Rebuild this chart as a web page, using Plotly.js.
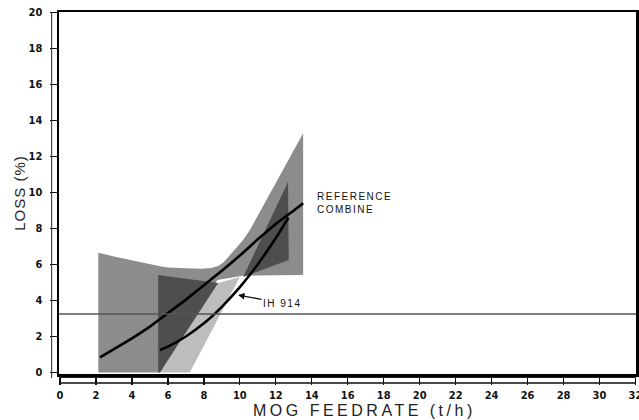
<!DOCTYPE html>
<html>
<head>
<meta charset="utf-8">
<script src="https://cdn.plot.ly/plotly-3.0.1.min.js"></script>
<style>
  html, body { margin: 0; padding: 0; background: #fff; }
  #chart { width: 639px; height: 420px; }
  .ytitle { letter-spacing: 1px; }
  .annotation-text { letter-spacing: 1.5px; }
  .annotation[data-index="2"] .annotation-text { letter-spacing: 3.5px; }
</style>
</head>
<body>
<div id="chart"></div>
<script>
// ---- axis ticks ----
const xTicks = [0, 2, 4, 6, 8, 10, 12, 14, 16, 18, 20, 22, 24, 26, 28, 30, 32];
const xTickText = ["0", "2", "4", "6", "8", "10", "12", "14", "16", "18", "20", "22", "24", "26", "28", "30", "32"];
const yTicks = [0, 2, 4, 6, 8, 10, 12, 14, 16, 18, 20];
const yTickText = ["0", "2", "4", "6", "8", "10", "12", "14", "16", "18", "20"];
const xTitle = "MOG FEEDRATE (t/h)";
const yTitle = "LOSS (%)";

// ---- reference combine band (medium grey) ----
const refBandX = [2.13, 2.13, 3, 4, 5, 5.56, 6, 7, 7.8, 8.4, 8.8, 9.1, 9.44, 9.8, 10.18, 10.56, 13.52, 13.52, 10.56, 10.15, 8.75, 5.56];
const refBandY = [0, 6.66, 6.45, 6.22, 6.0, 5.9, 5.84, 5.78, 5.76, 5.8, 5.92, 6.12, 6.5, 6.95, 7.36, 7.92, 13.29, 5.42, 5.42, 5.38, 5.14, 0];

// ---- IH 914 band, lower part (light stippled grey) ----
const ihBandX = [5.56, 7.22, 10.0, 8.8];
const ihBandY = [0, 0, 5.3, 4.97];

// ---- overlap regions (dark grey) ----
const overlapLeftX = [5.46, 5.46, 8.8, 5.56];
const overlapLeftY = [0, 5.42, 4.97, 0];
const overlapRightX = [10.18, 12.68, 12.72];
const overlapRightY = [5.3, 10.6, 6.25];

// ---- fitted curves ----
const refCurveX = [2.22, 3, 4, 5, 6, 7, 8, 9, 10, 11, 12, 13, 13.52];
const refCurveY = [0.84, 1.3, 1.9, 2.55, 3.3, 4.05, 4.85, 5.65, 6.5, 7.4, 8.25, 9.0, 9.4];
const ihCurveX = [5.56, 6, 7, 8, 9, 10, 11, 12, 12.7];
const ihCurveY = [1.25, 1.44, 2.0, 2.73, 3.65, 4.74, 6.02, 7.47, 8.6];

// ---- horizontal reference level ----
const THRESHOLD = 3.25;

const tickFont = { family: "Liberation Sans Narrow, DejaVu Sans Condensed, Arial Narrow, sans-serif", size: 11, weight: 700, color: "#111" };
const titleFontFamily = "Liberation Sans, Arial, Helvetica, sans-serif";

function band(x, y, color) {
  return { x: x, y: y, type: "scatter", mode: "lines", fill: "toself", fillcolor: color,
           line: { width: 0, color: color }, hoverinfo: "skip", showlegend: false };
}
function curve(x, y) {
  return { x: x, y: y, type: "scatter", mode: "lines", line: { color: "#000", width: 2.6, shape: "spline", smoothing: 0.6 },
           hoverinfo: "skip", showlegend: false };
}

const data = [
  band(refBandX, refBandY, "#8c8c8c"),
  band(ihBandX, ihBandY, "#bdbdbd"),
  band(overlapLeftX, overlapLeftY, "#4e4e4e"),
  band(overlapRightX, overlapRightY, "#4e4e4e"),
  curve(refCurveX, refCurveY),
  curve(ihCurveX, ihCurveY)
];

const layout = {
  width: 639, height: 420,
  margin: { l: 59, r: 3, t: 12, b: 46, pad: 0 },
  paper_bgcolor: "#fff", plot_bgcolor: "#fff",
  showlegend: false,
  xaxis: {
    range: [-0.056, 32.03], tickmode: "array", tickvals: xTicks, ticktext: xTickText,
    ticks: "outside", ticklen: 8, tickwidth: 1.3, tickcolor: "#111",
    showline: true, linewidth: 2.5, linecolor: "#000", mirror: true,
    showgrid: false, zeroline: false, tickfont: tickFont, ticklabelstandoff: 1,
    ticklabeloverflow: "allow",
    automargin: false,
    title: { text: "" }
  },
  yaxis: {
    range: [-0.083, 20.03], tickmode: "array", tickvals: yTicks, ticktext: yTickText,
    ticks: "outside", ticklen: 7, tickwidth: 1.3, tickcolor: "#111",
    showline: true, linewidth: 2.5, linecolor: "#000", mirror: true,
    showgrid: false, zeroline: false, tickfont: tickFont, ticklabelstandoff: 5,
    automargin: false,
    title: { text: yTitle, font: { family: titleFontFamily, size: 15, color: "#222" }, standoff: 0 }
  },
  shapes: [
    { type: "line", xref: "paper", x0: 0, x1: 1, yref: "y", y0: THRESHOLD, y1: THRESHOLD,
      line: { color: "#555", width: 1.3 }, layer: "above" },
    { type: "line", xref: "paper", x0: -0.0127, x1: -0.0127, yref: "paper", y0: -0.011, y1: 1,
      line: { color: "#222", width: 1 } },
    { type: "line", xref: "paper", x0: 0, x1: 1, yref: "paper", y0: -0.0097, y1: -0.0097,
      line: { color: "#222", width: 1 } },
    { type: "line", xref: "paper", x0: 0, x1: 1, yref: "paper", y0: -0.0249, y1: -0.0249,
      line: { color: "#111", width: 1.6 } }
  ],
  annotations: [
    { x: 14.17, y: 9.42, xref: "x", yref: "y", xanchor: "left", yanchor: "middle", align: "left",
      text: "REFERENCE<br>COMBINE", showarrow: false,
      font: { family: titleFontFamily, size: 10, color: "#111" } },
    { x: 9.9, y: 4.3, xref: "x", yref: "y", text: "IH 914", showarrow: true,
      ax: 44, ay: 8, arrowhead: 2, arrowsize: 1, arrowwidth: 1.3, arrowcolor: "#111", standoff: 0,
      font: { family: titleFontFamily, size: 10, color: "#111" } },
    { x: 0.53, y: -0.1268, xref: "paper", yref: "paper", xanchor: "center", yanchor: "bottom",
      text: xTitle, showarrow: false, borderpad: 0,
      font: { family: titleFontFamily, size: 16, color: "#222" } }
  ]
};

Plotly.newPlot("chart", data, layout, { displayModeBar: false, staticPlot: true });
</script>
</body>
</html>
